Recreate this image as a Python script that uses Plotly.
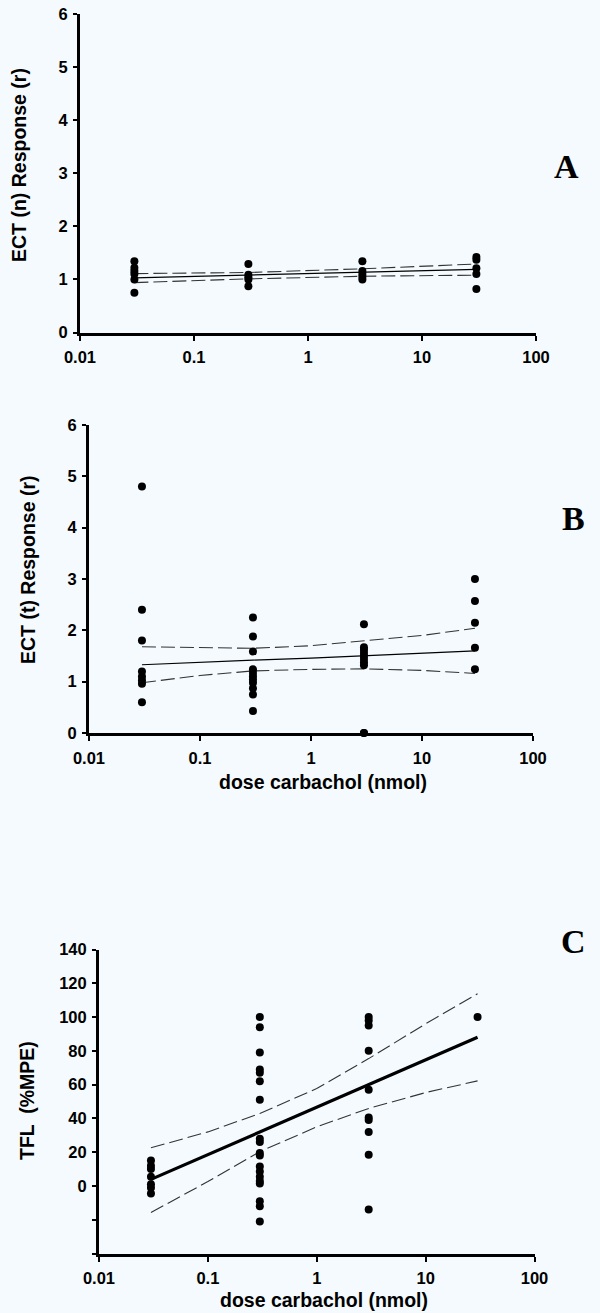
import plotly.graph_objects as go

W, H = 600, 1313
BG = "#F4FAFD"

# ---------------- data ----------------
dose_levels = [0.03, 0.3, 3, 30]
x_ticks = [0.01, 0.1, 1, 10, 100]
x_tick_text = ["0.01", "0.1", "1", "10", "100"]

# Panel A: ECT (n)
a_resp = [
    [1.34, 1.22, 1.16, 1.10, 1.00, 0.75],
    [1.29, 1.09, 1.04, 1.00, 0.87],
    [1.34, 1.16, 1.10, 1.05, 1.00],
    [1.42, 1.37, 1.21, 1.10, 0.82],
]
a_fit_x = [0.03, 0.3, 3, 30]
a_fit = [1.03, 1.08, 1.13, 1.19]
a_upper = [1.11, 1.13, 1.20, 1.29]
a_lower = [0.94, 1.01, 1.06, 1.08]

# Panel B: ECT (t)
b_resp = [
    [4.80, 2.40, 1.80, 1.20, 1.10, 1.03, 0.96, 0.60],
    [2.25, 1.88, 1.59, 1.24, 1.17, 1.10, 1.04, 0.98, 0.87, 0.75, 0.43],
    [2.12, 1.67, 1.62, 1.56, 1.50, 1.44, 1.38, 1.32, 0.0, 0.0],
    [3.00, 2.57, 2.15, 1.66, 1.24],
]
b_fit_x = [0.03, 0.1, 0.3, 1, 3, 10, 30]
b_fit = [1.33, 1.38, 1.42, 1.46, 1.51, 1.55, 1.60]
b_upper = [1.68, 1.66, 1.65, 1.70, 1.79, 1.90, 2.04]
b_lower = [0.98, 1.12, 1.21, 1.24, 1.25, 1.22, 1.16]

# Panel C: TFL
c_resp = [
    [15, 12, 10, 5.5, 1, -1, -4.5],
    [100, 94, 79, 69, 67, 62, 51, 28, 26, 19.5, 18, 11.5, 8.5, 5.5, 3, 1.5, -9, -12, -21],
    [100, 98, 95, 80, 57, 40.5, 39, 32, 18.5, -14],
    [100],
]
c_fit_x = [0.03, 0.1, 0.3, 1, 3, 10, 30]
c_fit = [3.9, 18.5, 31.9, 46.5, 59.9, 74.5, 88.0]
c_upper = [22.6, 32.0, 42.9, 57.7, 75.4, 96.0, 113.8]
c_lower = [-15.7, 2.6, 20.3, 35.0, 45.9, 55.3, 62.2]
c_yticks = [-40, -20, 0, 20, 40, 60, 80, 100, 120, 140]
c_yticktext = ["", "", "0", "20", "40", "60", "80", "100", "120", "140"]

# ---------------- layout helpers ----------------
def px_x(x):
    return x / W

def px_y(y):
    return 1 - y / H

TICKFONT = dict(family="Liberation Sans, Arial, sans-serif", size=16.5, color="black", weight="bold")
TITLEFONT = dict(family="Liberation Sans, Arial, sans-serif", size=19.5, color="black", weight="bold")
LETTERFONT = dict(family="Liberation Serif, Times New Roman, serif", size=34, color="black", weight="bold")

fig = go.Figure()

panels = [
    ("x", "y", a_resp, a_fit_x, a_fit, a_upper, a_lower, 1.2),
    ("x2", "y2", b_resp, b_fit_x, b_fit, b_upper, b_lower, 1.2),
    ("x3", "y3", c_resp, c_fit_x, c_fit, c_upper, c_lower, 3.2),
]

for xa, ya, resp, fx, fy, fu, fl, lw in panels:
    xs, ys = [], []
    for d, vals in zip(dose_levels, resp):
        xs += [d] * len(vals)
        ys += vals
    fig.add_trace(go.Scatter(x=fx, y=fu, mode="lines", xaxis=xa, yaxis=ya,
                             line=dict(color="#333333", width=1.1, dash="14px,5px"),
                             showlegend=False, hoverinfo="skip"))
    fig.add_trace(go.Scatter(x=fx, y=fl, mode="lines", xaxis=xa, yaxis=ya,
                             line=dict(color="#333333", width=1.1, dash="14px,5px"),
                             showlegend=False, hoverinfo="skip"))
    fig.add_trace(go.Scatter(x=fx, y=fy, mode="lines", xaxis=xa, yaxis=ya,
                             line=dict(color="black", width=lw),
                             showlegend=False, hoverinfo="skip"))
    fig.add_trace(go.Scatter(x=xs, y=ys, mode="markers", xaxis=xa, yaxis=ya,
                             marker=dict(color="black", size=8),
                             showlegend=False, cliponaxis=False))

common_x = dict(type="log", range=[-2, 2], tickvals=x_ticks, ticktext=x_tick_text,
                showline=True, linecolor="black", linewidth=3, ticks="outside",
                ticklen=5, tickwidth=2, tickcolor="black", showgrid=False,
                zeroline=False, tickfont=TICKFONT, ticklabelstandoff=3,
                automargin=False)
common_y = dict(showline=True, linecolor="black", linewidth=3, ticks="outside",
                ticklen=4, tickwidth=2, tickcolor="black", showgrid=False,
                zeroline=False, tickfont=TICKFONT, ticklabelstandoff=2,
                automargin=False)

fig.update_layout(
    template="none",
    width=W, height=H,
    margin=dict(l=0, r=0, t=0, b=0, pad=0),
    paper_bgcolor=BG, plot_bgcolor=BG,
    showlegend=False,
    xaxis=dict(domain=[px_x(80), px_x(536)], anchor="y", **common_x),
    yaxis=dict(domain=[px_y(332.5), px_y(14)], anchor="x", range=[0, 6],
               tickvals=[0, 1, 2, 3, 4, 5, 6], **common_y),
    xaxis2=dict(domain=[px_x(89), px_x(533)], anchor="y2", **common_x),
    yaxis2=dict(domain=[px_y(733), px_y(425)], anchor="x2", range=[0, 6],
                tickvals=[0, 1, 2, 3, 4, 5, 6], **common_y),
    xaxis3=dict(domain=[px_x(99), px_x(534.5)], anchor="y3", **common_x),
    yaxis3=dict(domain=[px_y(1253.5), px_y(949.5)], anchor="x3", range=[-40, 140],
                tickvals=c_yticks, ticktext=c_yticktext, **common_y),
)

annotations = [
    dict(text="ECT (n) Response (r)", x=px_x(19), y=px_y(165), textangle=-90, font=TITLEFONT),
    dict(text="ECT (t) Response (r)", x=px_x(28), y=px_y(570), textangle=-90, font=TITLEFONT),
    dict(text="TFL  (%MPE)", x=px_x(27), y=px_y(1101), textangle=-90, font=TITLEFONT),
    dict(text="dose carbachol (nmol)", x=px_x(323), y=px_y(782), font=TITLEFONT),
    dict(text="dose carbachol (nmol)", x=px_x(324), y=px_y(1300), font=TITLEFONT),
    dict(text="A", x=px_x(566), y=px_y(166), font=LETTERFONT),
    dict(text="B", x=px_x(573), y=px_y(518), font=LETTERFONT),
    dict(text="C", x=px_x(573), y=px_y(941), font=LETTERFONT),
]
for a in annotations:
    fig.add_annotation(xref="paper", yref="paper", showarrow=False,
                       xanchor="center", yanchor="middle", **a)

fig.write_html(
    "out.html",
    config={"displayModeBar": False},
    post_script="document.body.style.margin='0';document.body.style.background='%s';" % BG,
)
